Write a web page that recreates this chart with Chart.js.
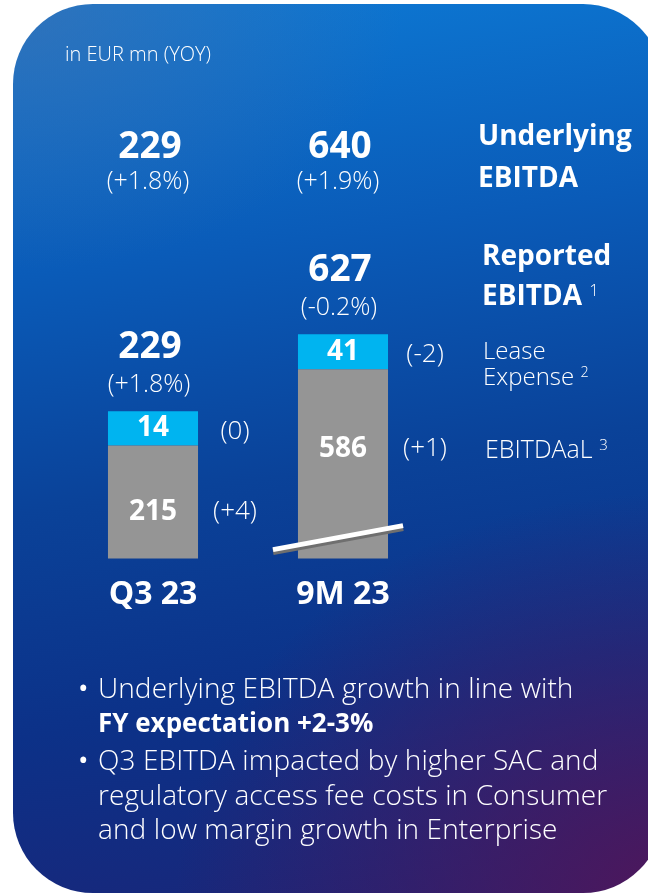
<!DOCTYPE html>
<html>
<head>
<meta charset="utf-8">
<script src="https://cdn.jsdelivr.net/npm/chart.js@4.4.0/dist/chart.umd.min.js"></script>
<style>
html, body { margin: 0; padding: 0; background: #fff; }
#wrap { position: relative; width: 648px; height: 895px; overflow: hidden; font-family: "Open Sans", sans-serif; color: #fff; }
#card {
    position: absolute; left: 13px; top: 4px; width: 650px; height: 889px; border-radius: 80px;
    background:
        radial-gradient(ellipse 75% 45% at 100% 100%, rgba(80, 22, 90, 0.95) 0%, rgba(80, 22, 90, 0) 100%),
        radial-gradient(ellipse 60% 30% at 0% 0%, rgba(70, 110, 170, 0.6) 0%, rgba(70, 110, 170, 0) 100%),
        linear-gradient(172deg, #0d7ad5 0%, #0a5bb8 28%, #0a4299 52%, #0c3188 75%, #1a2578 100%);
}
canvas { position: absolute; left: 0; top: 0; }
.t { position: absolute; white-space: nowrap; }
.b { font-weight: 700; }
.lt { font-weight: 300; }
.dot { position: absolute; left: -20px; font-weight: 400; }
sup { font-size: 60%; font-weight: 300; vertical-align: 0.55em; line-height: 0; }
</style>
</head>
<body>
<div id="wrap">
    <div id="card"></div>
    <canvas id="ebitda" width="648" height="895"></canvas>

    <div class="t lt" style="left:65px; top:41px; font-size:20px; line-height:26px;">in EUR mn (YOY)</div>

    <div class="t b" style="left:478px; top:113px; font-size:28px; line-height:42px;">Underlying<br>EBITDA</div>
    <div class="t b" style="left:482px; top:234px; font-size:28px; line-height:40px;">Reported<br>EBITDA <sup>1</sup></div>
    <div class="t lt" style="left:483px; top:337px; font-size:24px; line-height:26px;">Lease<br>Expense <sup>2</sup></div>
    <div class="t lt" style="left:485px; top:435px; font-size:25px; line-height:26px;">EBITDAaL <sup>3</sup></div>

    <div class="t lt" style="left:98px; top:670px; font-size:28px; line-height:34px; letter-spacing:0.1px;">
        <span class="dot">•</span>Underlying EBITDA growth in line with<br><span class="b" style="font-size:26px; letter-spacing:0;">FY expectation +2-3%</span>
    </div>
    <div class="t lt" style="left:98px; top:742px; font-size:28px; line-height:34.5px; letter-spacing:0.1px;">
        <span class="dot">•</span>Q3 EBITDA impacted by higher SAC and<br>regulatory access fee costs in Consumer<br>and low margin growth in Enterprise
    </div>
</div>

<script>
// in EUR mn
var categories = ['Q3 23', '9M 23'];
var ebitdaal = [215, 586];
var ebitdaalChange = ['(+4)', '(+1)'];
var leaseExpense = [14, 41];
var leaseChange = ['(0)', '(-2)'];
var reported = [229, 627];
var reportedChange = ['(+1.8%)', '(-0.2%)'];
var underlying = [229, 640];
var underlyingChange = ['(+1.8%)', '(+1.9%)'];

var GRAY = '#959595';
var CYAN = '#00b4f0';
var FONT = '"Open Sans", sans-serif';

// each period gets its own (hidden, cut) value axis, like the slide
var axisIds = ['yQ3', 'y9M'];

function onlyAt(values, i) {
    return values.map(function(v, j) { return j === i ? v : null; });
}

var datasets = [];
categories.forEach(function(cat, i) {
    datasets.push({ label: 'EBITDAaL', data: onlyAt(ebitdaal, i), backgroundColor: GRAY, yAxisID: axisIds[i] });
    datasets.push({ label: 'Lease Expense', data: onlyAt(leaseExpense, i), backgroundColor: CYAN, yAxisID: axisIds[i] });
});

var barLabels = {
    id: 'barLabels',
    afterDatasetsDraw: function(chart, args, opts) {
        var ctx = chart.ctx;
        var area = chart.chartArea;
        ctx.save();
        ctx.fillStyle = '#fff';
        ctx.textAlign = 'center';
        ctx.textBaseline = 'middle';

        categories.forEach(function(cat, i) {
            var g = chart.getDatasetMeta(i * 2).data[i];
            var c = chart.getDatasetMeta(i * 2 + 1).data[i];
            var left = g.x - g.width / 2;
            var right = g.x + g.width / 2;
            var bottom = Math.min(g.base, area.bottom);

            // axis break on the cut bar
            if (opts.broken[i]) {
                ctx.lineCap = 'butt';
                ctx.strokeStyle = '#6f6f6f';
                ctx.lineWidth = 7;
                ctx.beginPath();
                ctx.moveTo(left - 25, bottom - 7);
                ctx.lineTo(right + 15, bottom - 31);
                ctx.stroke();
                ctx.strokeStyle = '#ffffff';
                ctx.lineWidth = 5;
                ctx.beginPath();
                ctx.moveTo(left - 25, bottom - 9);
                ctx.lineTo(right + 15, bottom - 33);
                ctx.stroke();
            }

            var gy = (g.y + bottom) / 2 + opts.shift[i];
            var cy = (c.y + c.base) / 2;

            ctx.font = 'bold 28px ' + FONT;
            ctx.fillText(ebitdaal[i], g.x, gy);
            ctx.fillText(leaseExpense[i], c.x, cy);

            ctx.font = '300 26px ' + FONT;
            ctx.fillText(ebitdaalChange[i], right + 37, gy);
            ctx.fillText(leaseChange[i], right + 37, cy + 3);

            ctx.font = 'bold 37px ' + FONT;
            ctx.fillText(reported[i], g.x - 3, c.y - 64);
            ctx.font = '300 25px ' + FONT;
            ctx.fillText(reportedChange[i], g.x - 4, c.y - 26);

            ctx.font = 'bold 37px ' + FONT;
            ctx.fillText(underlying[i], g.x - 3, opts.topY);
            ctx.font = '300 25px ' + FONT;
            ctx.fillText(underlyingChange[i], g.x - 5, opts.topY + 35);
        });
        ctx.restore();
    }
};

var chart = new Chart(document.getElementById('ebitda'), {
    type: 'bar',
    data: { labels: categories, datasets: datasets },
    options: {
        responsive: false,
        animation: false,
        layout: { padding: { left: 58, right: 210, top: 150, bottom: 272 } },
        datasets: { bar: { categoryPercentage: 1, barPercentage: 0.474 } },
        scales: {
            x: {
                stacked: true,
                grid: { display: false },
                border: { display: false },
                ticks: { color: '#fff', padding: 9, font: { family: FONT, size: 32, weight: 'bold' } }
            },
            yQ3: { stacked: true, display: false, min: 168.5, max: 336.4 },
            y9M: { stacked: true, display: false, min: 365, max: 842 }
        },
        plugins: {
            legend: { display: false },
            tooltip: { enabled: false },
            barLabels: { broken: [false, true], shift: [10, -15], topY: 147 }
        }
    },
    plugins: [barLabels]
});
</script>
</body>
</html>
